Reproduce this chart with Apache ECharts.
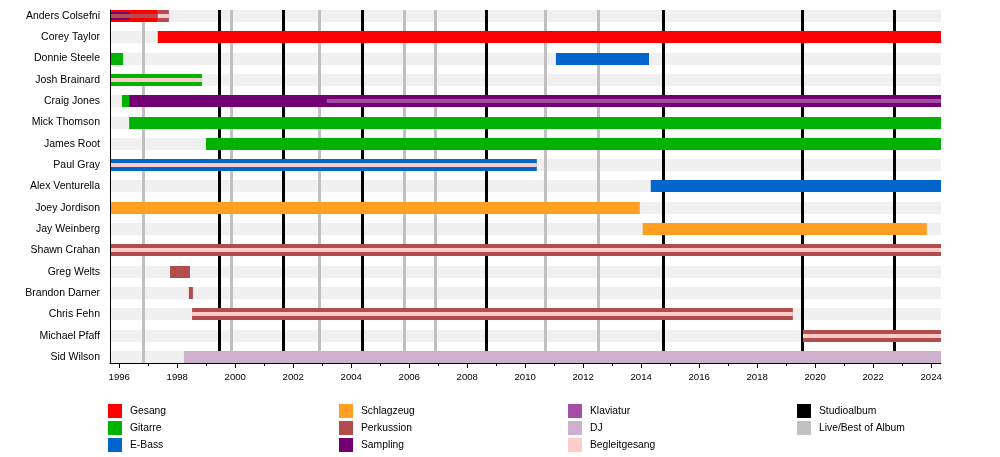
<!DOCTYPE html>
<html><head><meta charset="utf-8">
<script src="https://cdn.jsdelivr.net/npm/echarts@6/dist/echarts.min.js"></script>
<style>html,body{margin:0;padding:0;background:#fff}#c{width:1000px;height:457px}</style>
</head><body><div id="c"></div>
<script>
// ---------- DATA ----------
const members = ["Anders Colsefni","Corey Taylor","Donnie Steele","Josh Brainard","Craig Jones","Mick Thomson","James Root","Paul Gray","Alex Venturella","Joey Jordison","Jay Weinberg","Shawn Crahan","Greg Welts","Brandon Darner","Chris Fehn","Michael Pfaff","Sid Wilson"];
const majorYears = [1996,1998,2000,2002,2004,2006,2008,2010,2012,2014,2016,2018,2020,2022,2024];
const minorYears = [1997,1999,2001,2003,2005,2007,2009,2011,2013,2015,2017,2019,2021,2023];
// [member, start, end, level]  level: 0 = main role, 1 = second role, 2 = third role
const gesang = [["Anders Colsefni",1995.5,1997.33,0],["Corey Taylor",1997.33,2024.5,0]];
const gitarre = [["Donnie Steele",1995.5,1996.13,0],["Josh Brainard",1995.5,1998.85,0],["Craig Jones",1996.09,1996.34,0],["Mick Thomson",1996.34,2024.5,0],["James Root",1998.99,2024.5,0]];
const eBass = [["Donnie Steele",2011.06,2014.27,0],["Paul Gray",1995.5,2010.4,0],["Alex Venturella",2014.33,2024.5,0]];
const schlagzeug = [["Joey Jordison",1995.5,2013.95,0],["Jay Weinberg",2014.05,2023.85,0]];
const perkussion = [["Anders Colsefni",1995.5,1997.33,2],["Anders Colsefni",1997.33,1997.71,0],["Shawn Crahan",1995.5,2024.5,0],["Greg Welts",1997.75,1998.44,0],["Brandon Darner",1998.4,1998.54,0],["Chris Fehn",1998.51,2019.23,0],["Michael Pfaff",2019.58,2024.5,0]];
const sampling = [["Anders Colsefni",1995.5,1996.37,1],["Craig Jones",1996.34,2024.5,0]];
const klaviatur = [["Craig Jones",2003.16,2024.5,2]];
const dj = [["Sid Wilson",1998.23,2024.5,0]];
const begleitgesang = [["Anders Colsefni",1997.33,1997.71,2],["Josh Brainard",1995.5,1998.85,2],["Paul Gray",1995.5,2010.4,2],["Shawn Crahan",1995.5,2024.5,2],["Chris Fehn",1998.51,2019.23,2],["Michael Pfaff",2019.58,2024.5,2]];
const studioAlbums = [1999.47,2001.66,2004.40,2008.68,2014.78,2019.58,2022.75];
const liveAlbums = [1996.83,1999.86,2002.90,2005.82,2006.92,2010.71,2012.54];

// ---------- STYLE / RENDER ----------
const roles = [
  ['Gesang', gesang, '#ff0000'],
  ['Gitarre', gitarre, '#00b300'],
  ['E-Bass', eBass, '#0066cc'],
  ['Schlagzeug', schlagzeug, '#ffa022'],
  ['Perkussion', perkussion, '#b34d4d'],
  ['Sampling', sampling, '#730073'],
  ['Klaviatur', klaviatur, '#a64da6'],
  ['DJ', dj, '#ccb0cc'],
  ['Begleitgesang', begleitgesang, '#ffcccc']
];
const barH = [12, 8, 4];
const font = '"Liberation Sans", Arial, sans-serif';
const X_MIN = 1995.68, X_MAX = 2024.34;

function barSeries(name, spans, color) {
  return {
    type: 'custom', name, coordinateSystem: 'cartesian2d', clip: true,
    itemStyle: { color }, silent: true,
    encode: { x: [1, 2], y: 0 },
    data: spans.map(s => [members.indexOf(s[0]), s[1], s[2], s[3]]),
    renderItem(params, api) {
      const row = api.value(0), lvl = api.value(3);
      const p1 = api.coord([api.value(1), row]);
      const p2 = api.coord([api.value(2), row]);
      const h = barH[lvl];
      const cs = params.coordSys;
      const shape = echarts.graphic.clipRectByRect(
        { x: p1[0], y: Math.round(p1[1] - h / 2), width: p2[0] - p1[0], height: h },
        { x: cs.x, y: cs.y, width: cs.width, height: cs.height });
      return shape && { type: 'rect', shape, style: { fill: color }, z2: 10 + lvl * 10 };
    }
  };
}
function lineSeries(name, years, color, w) {
  return {
    type: 'custom', name, coordinateSystem: 'cartesian2d', silent: true,
    itemStyle: { color }, encode: { x: 0, y: 1 },
    data: years.map(v => [v, 0]),
    renderItem(params, api) {
      const cs = params.coordSys;
      const x = api.coord([api.value(0), 0])[0];
      return { type: 'rect', shape: { x: Math.round(x - w / 2), y: cs.y, width: w, height: cs.height }, style: { fill: color }, z2: 5 };
    }
  };
}
const bandSeries = {
  type: 'custom', coordinateSystem: 'cartesian2d', silent: true, encode: { x: 0, y: 1 },
  data: members.map((m, i) => [2000, i]),
  renderItem(params, api) {
    const cs = params.coordSys;
    const y = api.coord([2000, api.value(1)])[1];
    return { type: 'rect', shape: { x: cs.x, y: Math.round(y - 6), width: cs.width, height: 12 }, style: { fill: '#f0f0f0' }, z2: 0 };
  }
};

const legendBase = {
  orient: 'vertical', top: 404, padding: 0, itemWidth: 14, itemHeight: 14, itemGap: 3,
  icon: 'rect', selectedMode: false,
  textStyle: { fontFamily: font, fontSize: 10.3, color: '#000', padding: [0, 0, 0, 3] }
};
const gridBox = { left: 110, top: 10, width: 831, height: 353 };

const chart = echarts.init(document.getElementById('c'), null, { renderer: 'canvas' });
chart.setOption({
  animation: false,
  backgroundColor: '#fff',
  grid: [Object.assign({}, gridBox), Object.assign({}, gridBox)],
  xAxis: [{
    type: 'value', min: X_MIN, max: X_MAX, position: 'bottom', z: 20, gridIndex: 0,
    axisLine: { show: true, onZero: false, lineStyle: { color: '#000', width: 1 } },
    axisTick: { show: true, length: 5, customValues: majorYears, lineStyle: { color: '#000' } },
    axisLabel: { customValues: majorYears, fontFamily: font, fontSize: 9.6, color: '#000', margin: 9, formatter: v => String(v) },
    splitLine: { show: false }
  }, {
    type: 'value', min: X_MIN, max: X_MAX, position: 'bottom', gridIndex: 1, z: 20,
    axisLine: { show: false, onZero: false },
    axisTick: { show: true, length: 3, customValues: minorYears, lineStyle: { color: '#000' } },
    axisLabel: { show: false },
    splitLine: { show: false }
  }],
  yAxis: [{
    type: 'value', inverse: true, min: -0.28, max: 16.28, z: 20, gridIndex: 0,
    axisLine: { show: true, onZero: false, lineStyle: { color: '#000', width: 1 } },
    axisTick: { show: false },
    axisLabel: { customValues: members.map((m, i) => i), formatter: v => members[v] || '', fontFamily: font, fontSize: 10.5, color: '#000', margin: 10 },
    splitLine: { show: false }
  }, {
    type: 'value', gridIndex: 1, min: 0, max: 1, show: false
  }],
  legend: [
    Object.assign({}, legendBase, { left: 108, data: ['Gesang', 'Gitarre', 'E-Bass'] }),
    Object.assign({}, legendBase, { left: 339, data: ['Schlagzeug', 'Perkussion', 'Sampling'] }),
    Object.assign({}, legendBase, { left: 568, data: ['Klaviatur', 'DJ', 'Begleitgesang'] }),
    Object.assign({}, legendBase, { left: 797, data: ['Studioalbum', 'Live/Best of Album'] })
  ],
  series: [bandSeries]
    .concat(roles.map(r => barSeries(r[0], r[1], r[2])))
    .concat([lineSeries('Studioalbum', studioAlbums, '#000000', 3), lineSeries('Live/Best of Album', liveAlbums, '#c0c0c0', 3)])
});
</script>
</body></html>
